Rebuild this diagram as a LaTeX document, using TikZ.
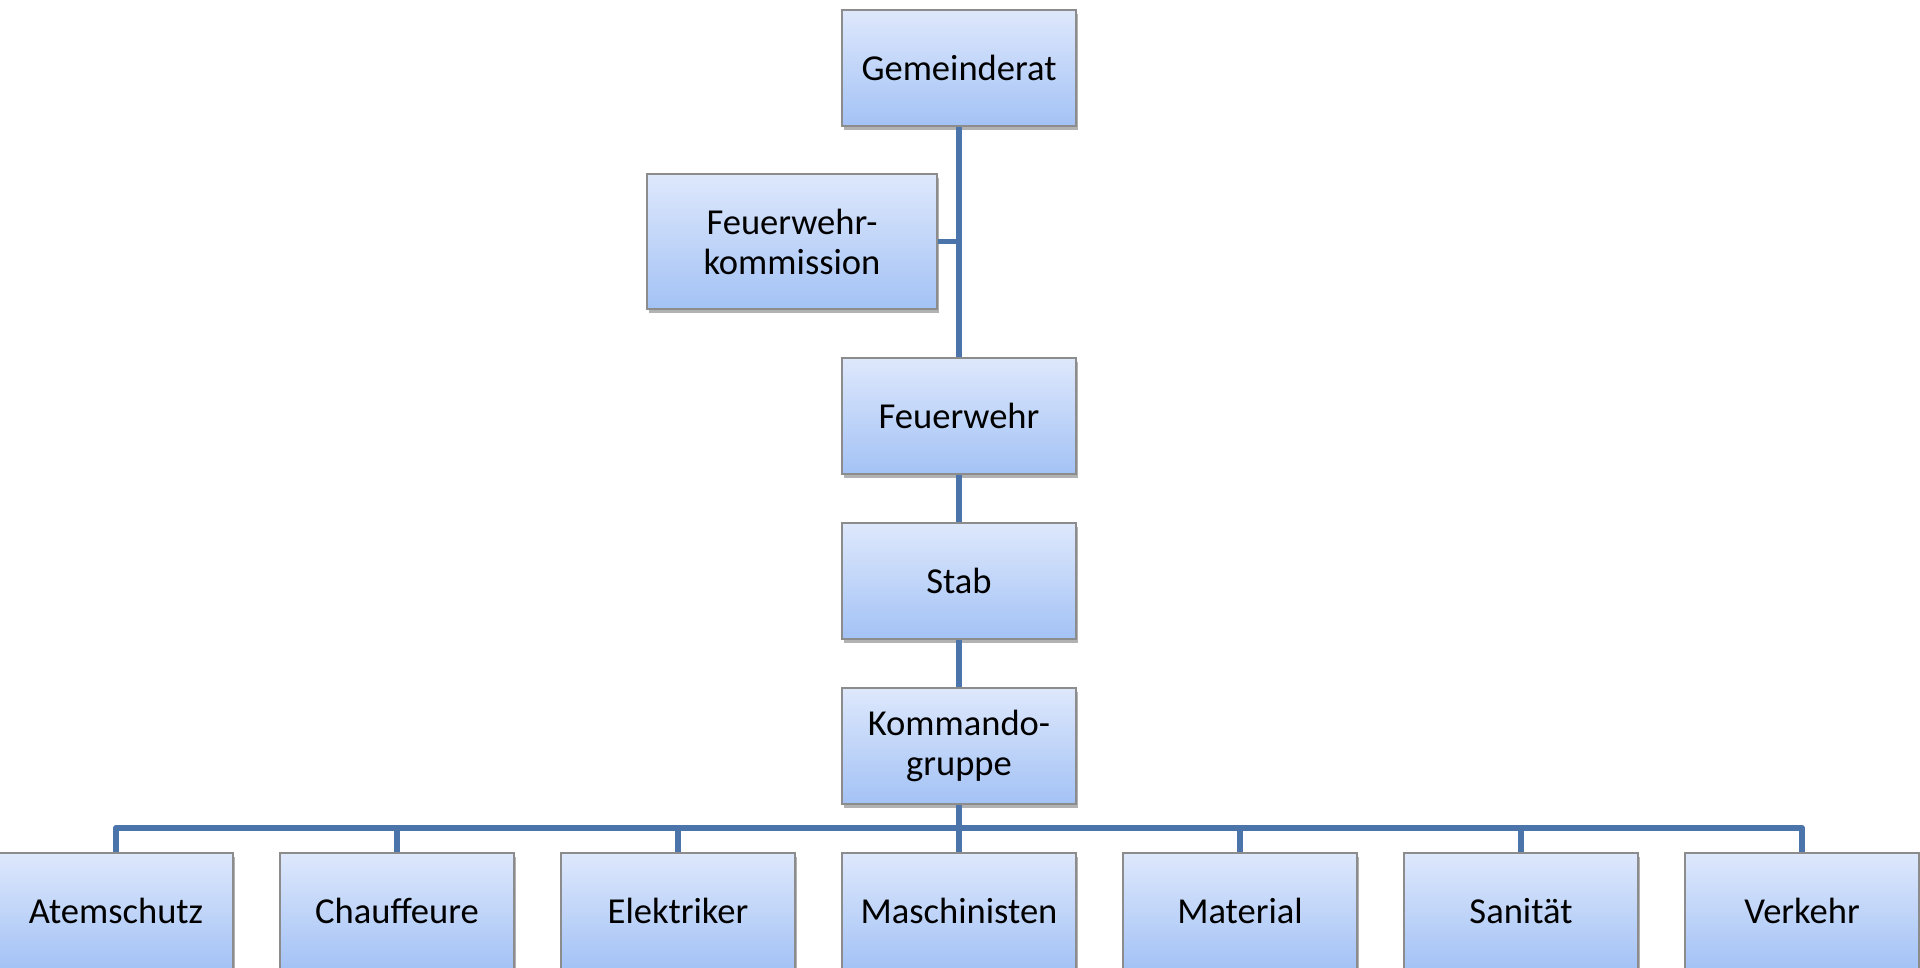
\documentclass[tikz,border=0pt]{standalone}
\usepackage{fontspec}
\setmainfont{Carlito}
\usetikzlibrary{shadows}

\definecolor{boxtop}{RGB}{222,232,252}
\definecolor{boxbottom}{RGB}{163,194,245}
\definecolor{boxrim}{RGB}{140,140,140}
\definecolor{linkblue}{RGB}{74,116,170}

\tikzset{
    orgbox/.style={draw=boxrim, line width=0.5pt, top color=boxtop, bottom color=boxbottom,
        minimum width=2.34cm, minimum height=1.16cm, inner sep=0pt, align=center,
        font=\fontsize{10.4}{11.4}\selectfont,
        drop shadow={shadow xshift=0.5pt, shadow yshift=-1pt, opacity=0.3, fill=black}},
    orgline/.style={draw=linkblue, line width=1.7pt, line join=round}
}

\begin{document}
\begin{tikzpicture}
    \useasboundingbox (0, 0) rectangle (19.2, -9.67);

    \node[orgbox] at (9.59, -0.68)(gemeinderat){Gemeinderat};
    \node[orgbox, minimum width=2.90cm, minimum height=1.35cm] at (7.92, -2.415)(kommission){Feuerwehr-\\kommission};
    \node[orgbox] at (9.59, -4.16)(feuerwehr){Feuerwehr};
    \node[orgbox] at (9.59, -5.81)(stab){Stab};
    \node[orgbox] at (9.59, -7.46)(kommando){Kommando-\\gruppe};

    \node[orgbox] at (1.16, -9.11)(atemschutz){Atemschutz};
    \node[orgbox] at (3.97, -9.11)(chauffeure){Chauffeure};
    \node[orgbox] at (6.78, -9.11)(elektriker){Elektriker};
    \node[orgbox] at (9.59, -9.11)(maschinisten){Maschinisten};
    \node[orgbox] at (12.40, -9.11)(material){Material};
    \node[orgbox] at (15.21, -9.11)(sanitaet){Sanität};
    \node[orgbox] at (18.02, -9.11)(verkehr){Verkehr};

    \coordinate (bus) at (9.59, -8.28);

    \draw[orgline](gemeinderat.south) to (feuerwehr.north);
        \draw[orgline](kommission.east) to (kommission.east -| gemeinderat.south);
    \draw[orgline](feuerwehr.south) to (stab.north);
    \draw[orgline](stab.south) to (kommando.north);
    \draw[orgline](kommando.south) to (bus);
    \draw[orgline](atemschutz.north) |- (bus) -| (verkehr.north);
    \foreach \n in {chauffeure, elektriker, maschinisten, material, sanitaet}
        \draw[orgline](bus -| \n.north) to (\n.north);
\end{tikzpicture}
\end{document}
